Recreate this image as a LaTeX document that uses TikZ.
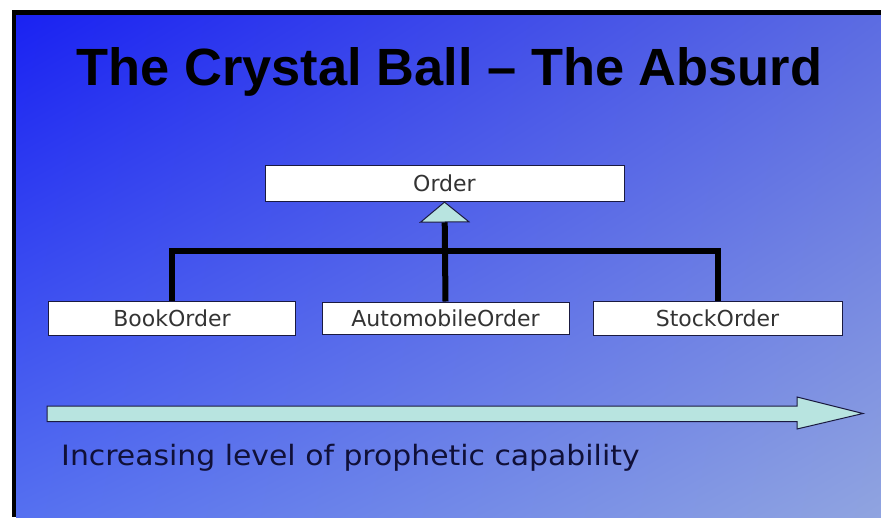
\documentclass[tikz,border=0pt]{standalone}
\usepackage{fontspec}
\setmainfont{DejaVu Sans}
\newfontfamily\titlefont{Liberation Sans}
\newfontfamily\boxfont{DejaVu Sans}
\usetikzlibrary{arrows.meta,shadings}
\definecolor{bgUL}{HTML}{1A22F2}
\definecolor{bgUR}{HTML}{5C6CE2}
\definecolor{bgLL}{HTML}{5570F0}
\definecolor{bgLR}{HTML}{90A4E0}
\definecolor{tipcyan}{HTML}{B8E4E0}
\definecolor{boxtext}{HTML}{333333}
\definecolor{edgeblue}{HTML}{1A1A40}
\definecolor{captext}{HTML}{101038}
\tikzset{
  cls/.style={draw=edgeblue, line width=1pt, fill=white, inner sep=0pt,
    minimum width=247pt, minimum height=34pt,
    font=\boxfont\fontsize{22}{24}\selectfont, text=boxtext},
  tree/.style={draw=black, line width=6pt, line join=miter},
}
\begin{document}
\begin{tikzpicture}[x=1pt,y=-1pt]
\useasboundingbox (0,0) rectangle (881,517);
\fill[white] (0,0) rectangle (881,517);
\fill[black] (12,10) rectangle (881,517);
\shade[upper left=bgUL, upper right=bgUR, lower left=bgLL, lower right=bgLR]
  (16,15) rectangle (881,517);
% title
\node[anchor=base, inner sep=0pt, font=\titlefont\bfseries\fontsize{52.4}{60}\selectfont, text=black]
  (title) at (449.5,85) {The Crystal Ball – The Absurd};
% classes
\node[cls, minimum width=359pt, minimum height=36pt] (order) at (444.5,183) {Order};
\node[cls] (book) at (172,318) {BookOrder};
\node[cls, minimum height=32pt] (auto) at (445.5,318) {AutomobileOrder};
\node[cls, minimum width=249pt] (stock) at (717.5,318) {StockOrder};
% connectors
\coordinate (junction) at (auto.north |- 0,251);
\draw[tree] (book.north) |- (junction) -| (stock.north);
\draw[tree, -{Triangle[length=21pt, width=51pt, fill=tipcyan, color=edgeblue, line width=1pt]}]
  (auto.north) -- (order.south);
% progress arrow
\draw[draw=edgeblue, line width=1pt, fill=tipcyan, line join=miter]
  (47,406) -- (797,406) -- (797,397) -- (863,413.5) -- (797,429) -- (797,421.5) -- (47,421.5) -- cycle;
\node[anchor=base west, inner sep=0pt, font=\fontsize{28}{32}\selectfont, text=captext]
  (caption) at (61,465) {\scalebox{1.066}[1]{Increasing level of prophetic capability}};
\end{tikzpicture}
\end{document}
